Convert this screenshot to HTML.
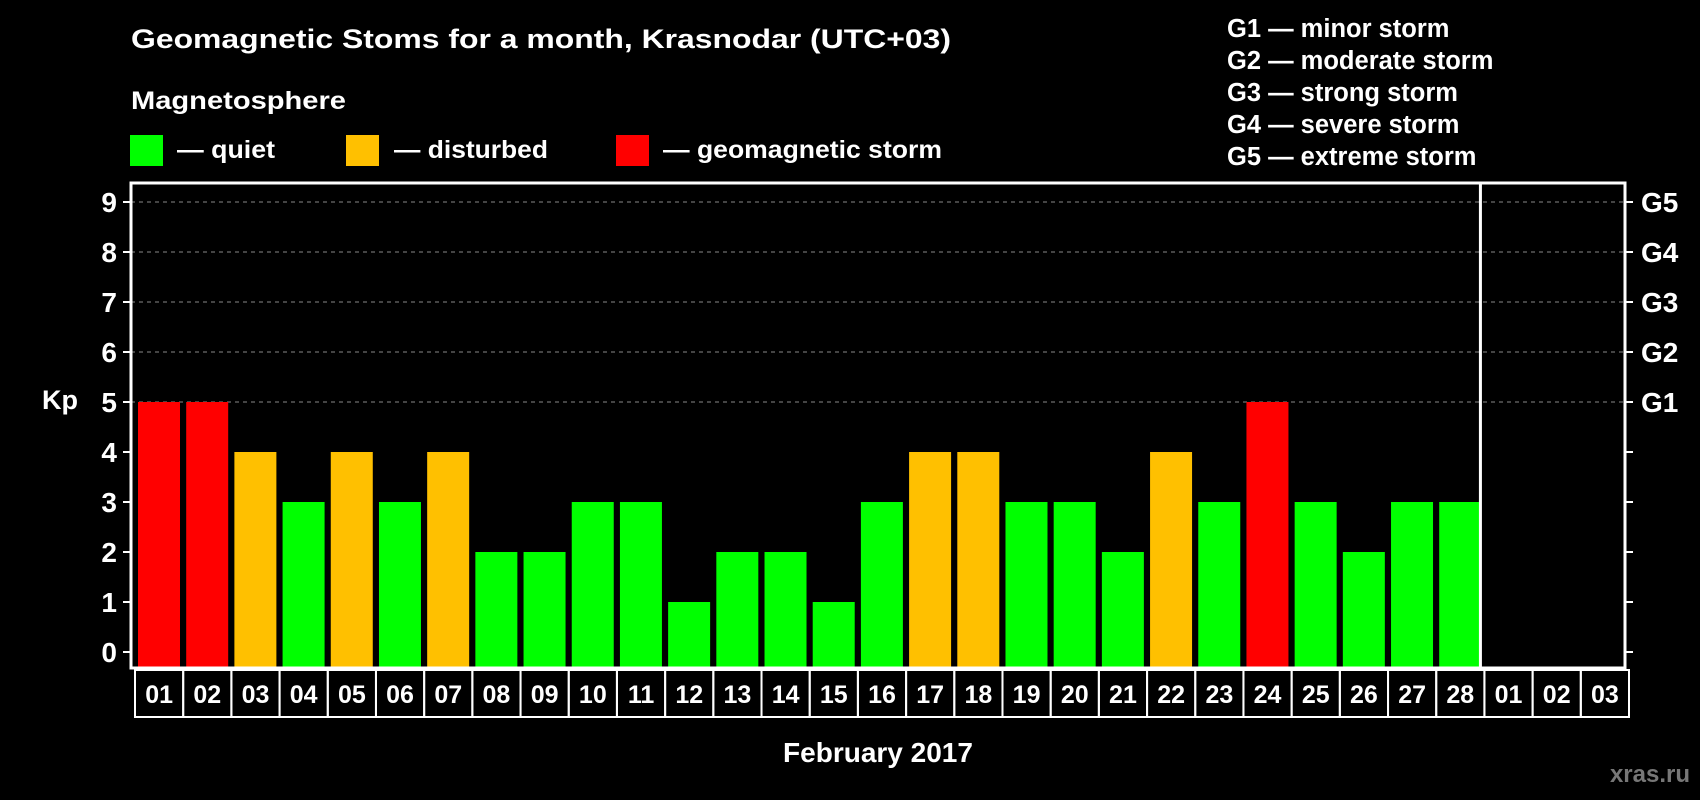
<!DOCTYPE html>
<html><head><meta charset="utf-8"><style>
body{margin:0;background:#000;width:1700px;height:800px;overflow:hidden}
svg{display:block;font-family:"Liberation Sans",sans-serif;font-weight:bold}
</style></head><body>
<svg id="chart" width="1700" height="800">
<text x="131" y="48" fill="#fff" font-size="27" textLength="820" lengthAdjust="spacingAndGlyphs">Geomagnetic Stoms for a month, Krasnodar (UTC+03)</text>
<text x="131" y="109" fill="#fff" font-size="25" textLength="215" lengthAdjust="spacingAndGlyphs">Magnetosphere</text>
<g><rect x="130" y="135" width="33" height="31" fill="#00ff00"/><text x="177" y="158" fill="#fff" font-size="25" textLength="98" lengthAdjust="spacingAndGlyphs">— quiet</text></g>
<g><rect x="346" y="135" width="33" height="31" fill="#ffc000"/><text x="394" y="158" fill="#fff" font-size="25" textLength="154" lengthAdjust="spacingAndGlyphs">— disturbed</text></g>
<g><rect x="616" y="135" width="33" height="31" fill="#ff0000"/><text x="663" y="158" fill="#fff" font-size="25" textLength="279" lengthAdjust="spacingAndGlyphs">— geomagnetic storm</text></g>
<g fill="#fff" font-size="25.5">
<text x="1227" y="37">G1 — minor storm</text>
<text x="1227" y="69">G2 — moderate storm</text>
<text x="1227" y="101">G3 — strong storm</text>
<text x="1227" y="133">G4 — severe storm</text>
<text x="1227" y="165">G5 — extreme storm</text>
</g>
<text x="42" y="409" fill="#fff" font-size="27">Kp</text>
<text x="878" y="762" fill="#fff" font-size="28" text-anchor="middle">February 2017</text>
<text x="1690" y="782" fill="#777" font-size="24" text-anchor="end">xras.ru</text>
<g id="grid"></g><g id="bars"></g><g id="axes"></g>
</svg>
<script>
const days=["01","02","03","04","05","06","07","08","09","10","11","12","13","14","15","16","17","18","19","20","21","22","23","24","25","26","27","28","01","02","03"];
const kp=[5,5,4,3,4,3,4,2,2,3,3,1,2,2,1,3,4,4,3,3,2,4,3,5,3,2,3,3];
const yTicks=[0,1,2,3,4,5,6,7,8,9];
const gLabels=["G1","G2","G3","G4","G5"];
const NS="http://www.w3.org/2000/svg";
const L=131,R=1625,T=183,B=668;
const slot=(R-L)/days.length;
const x=i=>L+i*slot;
const y=v=>652-v*50;
function mk(t,a,p){const e=document.createElementNS(NS,t);for(const k in a)e.setAttribute(k,a[k]);p.appendChild(e);return e;}
const grid=document.getElementById('grid'),bars=document.getElementById('bars'),axes=document.getElementById('axes');
yTicks.forEach(v=>{
 if(v>=5){const g=mk('line',{x1:L,x2:R,y1:y(v),y2:y(v),stroke:'#888','stroke-dasharray':'4 4','stroke-width':1},grid);
 
 }
 mk('line',{x1:L-8,x2:L,y1:y(v),y2:y(v),stroke:'#fff','stroke-width':2},axes);
 mk('line',{x1:R,x2:R+8,y1:y(v),y2:y(v),stroke:'#fff','stroke-width':2},axes);
 const t=mk('text',{x:L-14,y:y(v)+10,fill:'#fff','font-size':28,'text-anchor':'end'},axes);t.textContent=v;
 
 
 if(v>=5){const g=mk('text',{x:R+16,y:y(v)+10,fill:'#fff','font-size':28},axes);g.textContent=gLabels[v-5];
 
 }
});
kp.forEach((v,i)=>{
 const c=v>=5?'#ff0000':v==4?'#ffc000':'#00ff00';
 const r=mk('rect',{x:x(i)+7,y:y(v),width:42,height:B-y(v),fill:c},bars);
 
 
});
mk('rect',{x:L,y:T,width:R-L,height:B-T,fill:'none',stroke:'#fff','stroke-width':3},axes);
mk('line',{x1:x(28),x2:x(28),y1:T,y2:B,stroke:'#fff','stroke-width':3},axes);
days.forEach((d,i)=>{
 const r=mk('rect',{x:x(i)+4,y:B+2,width:slot,height:47,fill:'none',stroke:'#fff','stroke-width':2},axes);
 
 
 const t=mk('text',{x:x(i)+4+slot/2,y:B+35,fill:'#fff','font-size':25,'text-anchor':'middle'},axes);t.textContent=d;
 
 
});
</script>
</body></html>
